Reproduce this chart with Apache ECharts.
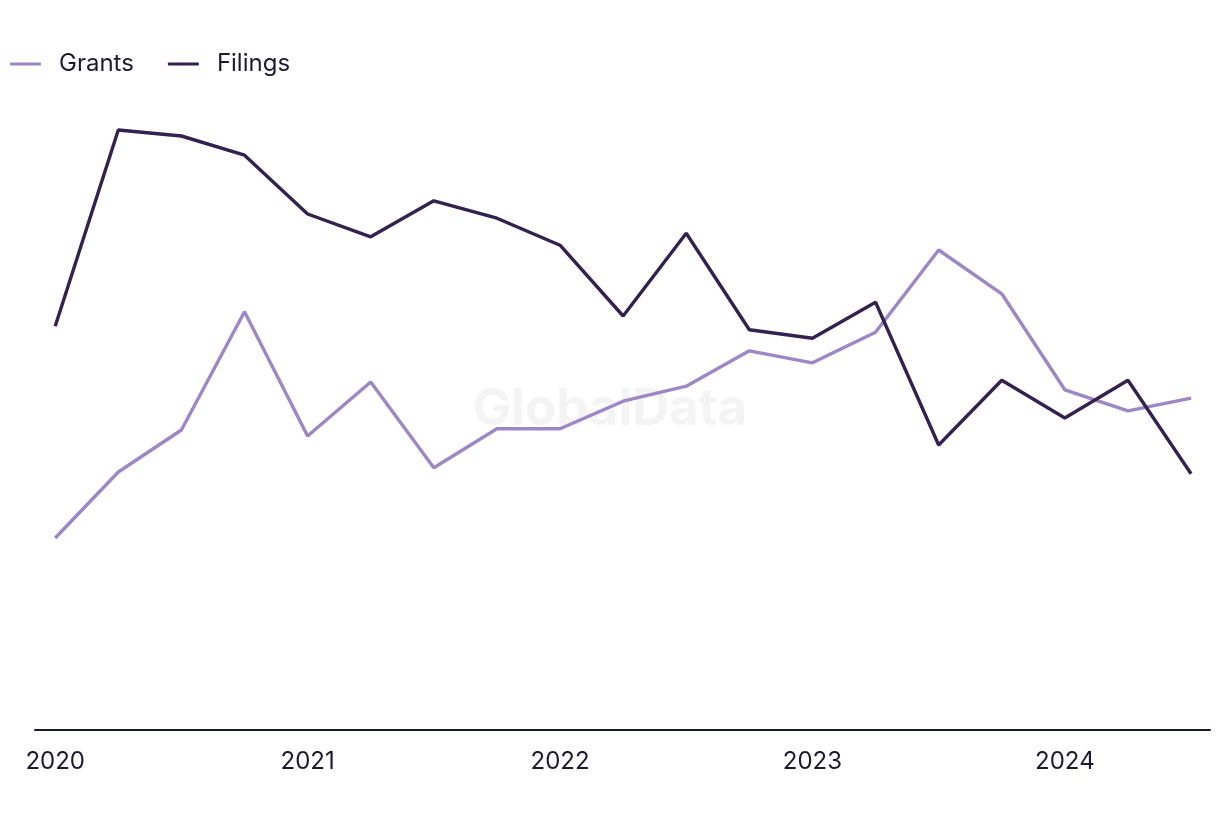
<!DOCTYPE html>
<html>
<head>
<meta charset="utf-8">
<script src="https://cdn.jsdelivr.net/npm/echarts@6/dist/echarts.min.js"></script>
<style>
html,body{margin:0;padding:0;background:#fff;}
#chart{width:1220px;height:820px;}
</style>
</head>
<body>
<div id="chart"></div>
<script>
const quarters = ['2020Q1','2020Q2','2020Q3','2020Q4','2021Q1','2021Q2','2021Q3','2021Q4','2022Q1','2022Q2','2022Q3','2022Q4','2023Q1','2023Q2','2023Q3','2023Q4','2024Q1','2024Q2','2024Q3'];
const grants  = [32, 43, 50, 69.7, 49, 58, 43.7, 50.2, 50.2, 54.8, 57.3, 63.2, 61.2, 66.3, 80, 72.7, 56.7, 53.2, 55.3];
const filings = [67.3, 100, 99, 95.8, 86, 82.2, 88.2, 85.3, 80.8, 69, 82.8, 66.7, 65.3, 71.3, 47.5, 58.3, 52, 58.3, 42.7];
const yearTickIdx = [0, 4, 8, 12, 16];
const yearLabels = ['2020', '2021', '2022', '2023', '2024'];

const chart = echarts.init(document.getElementById('chart'));
const toPairs = arr => arr.map((v, i) => [i, v]);
const font = 'Inter, "Noto Sans", sans-serif';

chart.setOption({
  animation: false,
  backgroundColor: '#ffffff',
  graphic: [{
    type: 'text',
    left: 'center',
    top: 384,
    z: -1,
    style: { text: 'GlobalData', font: 'bold 51px ' + font, fill: '#f4f4f4' }
  }],
  legend: {
    left: 5,
    top: 47,
    itemWidth: 31,
    itemHeight: 3,
    itemGap: 34,
    icon: 'roundRect',
    textStyle: { fontSize: 24, color: '#1c1b2e', fontFamily: font, padding: [0, 0, 0, 13] },
    data: ['Grants', 'Filings']
  },
  grid: { left: 35, right: 10, top: 10, bottom: 90, containLabel: false },
  xAxis: {
    type: 'value',
    min: -0.32,
    max: 18.3,
    axisLine: { show: true, lineStyle: { color: '#1a1a2e', width: 2 } },
    axisTick: { show: false },
    splitLine: { show: false },
    axisLabel: {
      customValues: yearTickIdx,
      formatter: v => yearLabels[yearTickIdx.indexOf(Math.round(v))] || '',
      fontSize: 24,
      color: '#1c1b2e',
      fontFamily: font,
      margin: 20
    }
  },
  yAxis: {
    type: 'value',
    min: 0,
    max: 120,
    show: false,
    splitLine: { show: false }
  },
  series: [
    {
      name: 'Grants',
      type: 'line',
      data: toPairs(grants),
      symbol: 'none',
      lineStyle: { color: '#9e87c6', width: 3.4 },
      itemStyle: { color: '#9e87c6' }
    },
    {
      name: 'Filings',
      type: 'line',
      data: toPairs(filings),
      symbol: 'none',
      lineStyle: { color: '#33214f', width: 3.4 },
      itemStyle: { color: '#33214f' }
    }
  ]
});
</script>
</body>
</html>
